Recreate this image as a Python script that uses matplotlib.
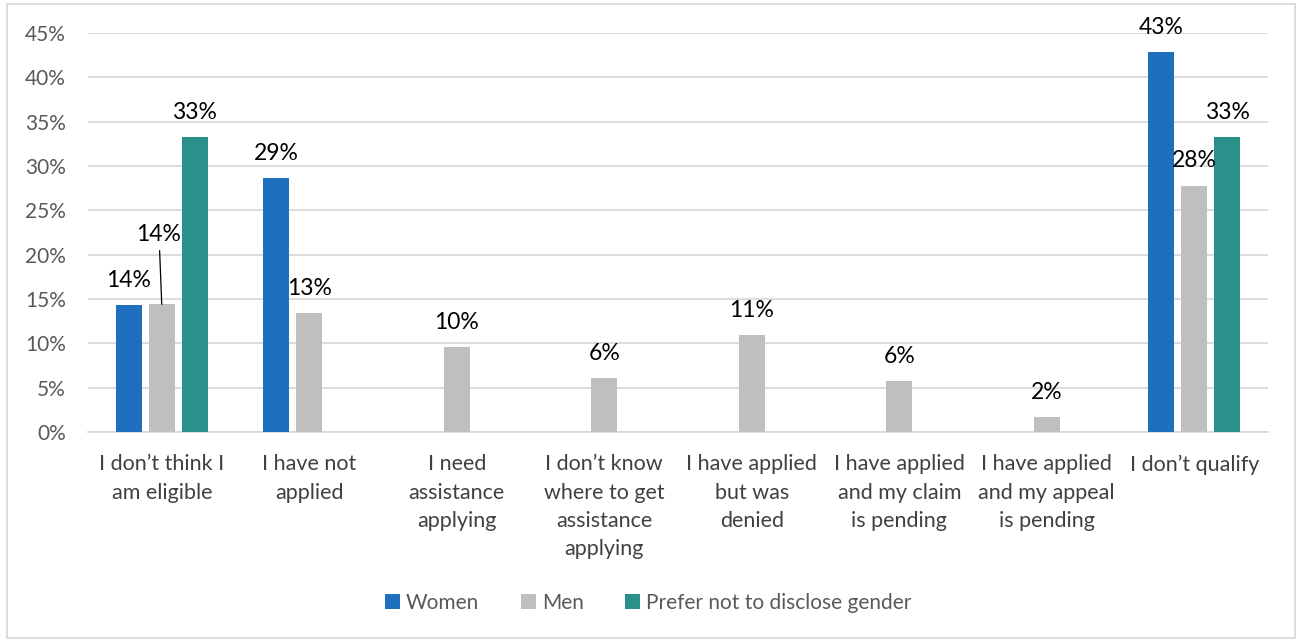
import matplotlib
matplotlib.use("Agg")
import matplotlib.pyplot as plt
from matplotlib.patches import Rectangle
import numpy as np

categories = [
    "I don\u2019t think I\nam eligible",
    "I have not\napplied",
    "I need\nassistance\napplying",
    "I don\u2019t know\nwhere to get\nassistance\napplying",
    "I have applied\nbut was\ndenied",
    "I have applied\nand my claim\nis pending",
    "I have applied\nand my appeal\nis pending",
    "I don\u2019t qualify",
]
women = [14.3, 28.6, 0, 0, 0, 0, 0, 42.9]
men = [14.4, 13.4, 9.6, 6.1, 10.9, 5.7, 1.7, 27.8]
prefer = [33.3, 0, 0, 0, 0, 0, 0, 33.3]
series_names = ["Women", "Men", "Prefer not to disclose gender"]
colors = ["#1F6FBF", "#BFBFBF", "#29918A"]
yticks = [0, 5, 10, 15, 20, 25, 30, 35, 40, 45]

plt.rcParams['font.family'] = ['Lato', 'DejaVu Sans']

fig = plt.figure(figsize=(12.97, 6.41), dpi=100)
ax = fig.add_axes([88/1297, 1-432/641, (1268-88)/1297, (432-33)/641])

x = np.arange(len(categories))
w = 0.176
step = 0.224
all_series = [women, men, prefer]
for i, (vals, name, c) in enumerate(zip(all_series, series_names, colors)):
    pos = x + (i-1)*step
    ax.bar(pos, vals, width=w, color=c, label=name, zorder=3)
    for j, (p, v) in enumerate(zip(pos, vals)):
        if v <= 0:
            continue
        if i == 1 and j == 0:
            ax.annotate(f"{v:.0f}%", xy=(p, v), xytext=(-2, 45.5), textcoords='offset points',
                        ha='center', va='baseline', fontsize=16.5, color='black',
                        arrowprops=dict(arrowstyle='-', color='black', lw=0.9,
                                        shrinkA=2, shrinkB=0), zorder=5)
        else:
            ax.annotate(f"{v:.0f}%", xy=(p, v), xytext=(0, 13), textcoords='offset points',
                        ha='center', va='baseline', fontsize=16.5, color='black', zorder=5)

ax.set_xlim(-0.5, len(categories)-0.5)
ax.set_ylim(0, 45)
ax.set_yticks(yticks)
ax.set_yticklabels([f"{t}%" for t in yticks], fontsize=15, color='#595959')
ax.set_xticks(x)
ax.set_xticklabels(categories, fontsize=15.5, color='#404040', linespacing=1.52)
ax.tick_params(axis='both', length=0)
ax.tick_params(axis='x', pad=16)
ax.tick_params(axis='y', pad=16)
ax.grid(axis='y', color='#D9D9D9', lw=1.3, zorder=0)
for s in ['top', 'right', 'left']:
    ax.spines[s].set_visible(False)
ax.spines['bottom'].set_color('#D9D9D9')
ax.spines['bottom'].set_linewidth(1.3)

leg = fig.legend(loc='center', bbox_to_anchor=(0.5, 1-603/641), ncol=3, frameon=False,
                 fontsize=15, handlelength=0.7, handleheight=0.7, handletextpad=0.3,
                 columnspacing=2.0)
for t in leg.get_texts():
    t.set_color('#595959')

fig.patches.append(Rectangle((7/1297, 3/641), 1288/1297, 634/641, transform=fig.transFigure,
                             fill=False, edgecolor='#D9D9D9', lw=1.3))

fig.savefig("out.png", dpi=100)
